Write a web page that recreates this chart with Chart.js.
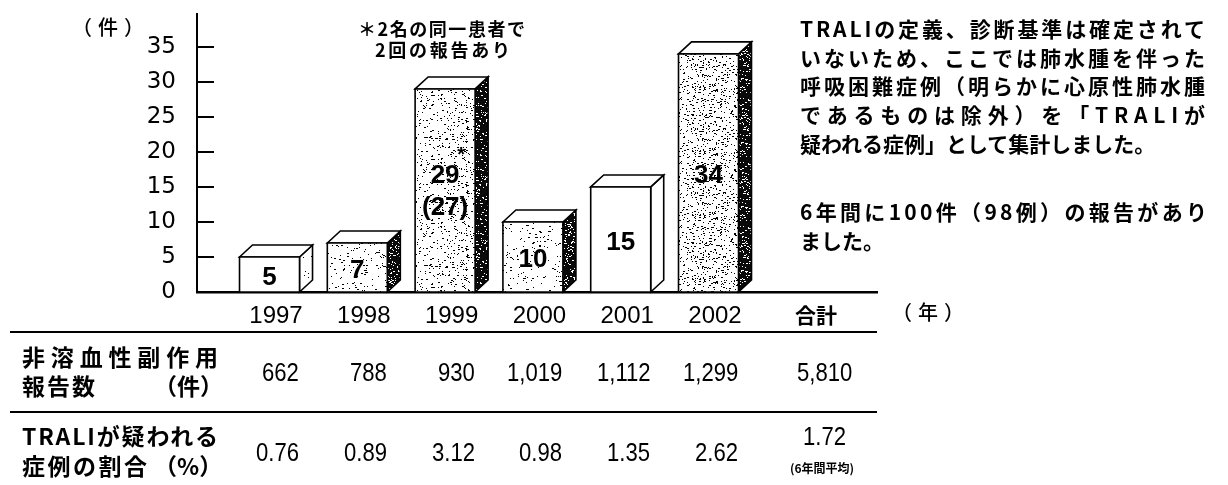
<!DOCTYPE html>
<html><head><meta charset="utf-8">
<script src="https://cdn.jsdelivr.net/npm/chart.js@4.4.1/dist/chart.umd.min.js"></script>
<style>
html,body{margin:0;padding:0;background:#fff;}
#wrap{position:relative;width:1228px;height:485px;overflow:hidden;background:#fff;}
#wrap canvas{position:absolute;left:0;top:0;}
.t{position:absolute;white-space:nowrap;color:#000;font-family:"Noto Sans CJK JP","Noto Sans CJK SC",sans-serif;line-height:1;font-weight:700;}
.num{font-family:"Liberation Sans",Arial,sans-serif;font-weight:400;transform-origin:0 50%;}
.hr{position:absolute;left:10px;width:867px;height:2px;background:#000;}
</style></head>
<body><div id="wrap"><canvas id="c" width="1228" height="485"></canvas></div>
<script>
// ---------- data ----------
const years = ['1997', '1998', '1999', '2000', '2001', '2002'];
const totalLabel = '合計';
const cases = [5, 7, 29, 10, 15, 34];          // 件
const patients = [5, 7, 27, 10, 15, 34];       // 例
const caseNotes = ['', '', '*', '', '', ''];
const yTicks = [0, 5, 10, 15, 20, 25, 30, 35];
const reports = [662, 788, 930, 1019, 1112, 1299];
const reportsTotal = 5810;
const rates = [0.76, 0.89, 3.12, 0.98, 1.35, 2.62];
const rateAverage = 1.72;

// ---------- styles ----------
const frontTex = ['white', 'light', 'medium', 'light', 'white', 'dense'];
const sideTex  = ['faint', 'dark', 'dark', 'dark', 'white', 'dark'];
const DX = 13, DY = 12;
const TOTAL_SHIFT = 0.15;
const SANS = '"Liberation Sans",Arial,sans-serif';
const CJK = '"Noto Sans CJK JP","Noto Sans CJK SC",sans-serif';

const canvas = document.getElementById('c');
const cctx = canvas.getContext('2d');

function hashRng(seed) {
  return function () {
    seed = (seed + 0x6D2B79F5) | 0;
    let t = Math.imul(seed ^ (seed >>> 15), 1 | seed);
    t = (t + Math.imul(t ^ (t >>> 7), 61 | t)) ^ t;
    return ((t ^ (t >>> 14)) >>> 0) / 4294967296;
  };
}
const texSpecs = {
  faint:  {bg: '#fff', fg: '#000', d: 0.025},
  light:  {bg: '#fff', fg: '#000', d: 0.05},
  medium: {bg: '#fff', fg: '#000', d: 0.085},
  dense:  {bg: '#fff', fg: '#000', d: 0.13},
  dark:   {bg: '#0a0a0a', fg: '#fff', d: 0.14}
};
function makeTex(kind, seed) {
  const s = texSpecs[kind];
  if (!s) return '#ffffff';
  const N = 64;
  const cv = document.createElement('canvas');
  cv.width = cv.height = N;
  const g = cv.getContext('2d');
  g.fillStyle = s.bg; g.fillRect(0, 0, N, N);
  g.fillStyle = s.fg;
  const r = hashRng(seed);
  const count = Math.round(N * N * s.d / 1.3);
  for (let i = 0; i < count; i++) {
    const x = Math.floor(r() * N), y = Math.floor(r() * N);
    const w = r() < 0.3 ? 2 : 1;
    g.fillRect(x, y, w, 1);
  }
  return cctx.createPattern(cv, 'repeat');
}
const frontFill = frontTex.map((k, i) => makeTex(k, 101 + i * 17));
const sideFill = sideTex.map((k, i) => makeTex(k, 503 + i * 29));

const box3d = {
  id: 'box3d',
  afterDatasetsDraw(chart) {
    const ctx = chart.ctx;
    const meta = chart.getDatasetMeta(0);
    ctx.save();
    ctx.lineWidth = 1.6;
    ctx.strokeStyle = '#000';
    ctx.lineJoin = 'miter';
    meta.data.forEach((el, i) => {
      const p = el.getProps(['x', 'y', 'base', 'width'], true);
      const L = p.x - p.width / 2, R = p.x + p.width / 2;
      const F = R - DX; // front right edge
      const top = p.y, base = p.base;
      // side
      ctx.beginPath();
      ctx.moveTo(F, top); ctx.lineTo(R, top - DY); ctx.lineTo(R, base - DY); ctx.lineTo(F, base); ctx.closePath();
      ctx.fillStyle = sideFill[i]; ctx.fill(); ctx.stroke();
      // top
      ctx.beginPath();
      ctx.moveTo(L, top); ctx.lineTo(L + DX, top - DY); ctx.lineTo(R, top - DY); ctx.lineTo(F, top); ctx.closePath();
      ctx.fillStyle = '#fff'; ctx.fill(); ctx.stroke();
      // front
      ctx.beginPath();
      ctx.rect(L, top, F - L, base - top);
      ctx.fillStyle = frontFill[i]; ctx.fill(); ctx.stroke();
      // value label
      const cx = (L + F) / 2, mid = (top + base) / 2 + 1;
      ctx.fillStyle = '#000';
      ctx.font = 'bold 26px ' + SANS;
      ctx.textAlign = 'center';
      ctx.textBaseline = 'middle';
      if (patients[i] !== cases[i]) {
        ctx.fillText(String(cases[i]), cx, mid - 16);
        ctx.fillText('(' + patients[i] + ')', cx, mid + 16);
        if (caseNotes[i]) {
          ctx.font = 'bold 20px ' + SANS;
          ctx.fillText(caseNotes[i], cx + 16, mid - 36);
        }
      } else {
        ctx.fillText(String(cases[i]), cx, mid + 2);
      }
    });
    ctx.restore();
  }
};

const inTicks = {
  id: 'inTicks',
  afterDraw(chart) {
    const ctx = chart.ctx, ys = chart.scales.y, left = chart.chartArea.left;
    ctx.save();
    ctx.strokeStyle = '#000';
    ctx.lineWidth = 2;
    yTicks.forEach(v => {
      if (v === 0) return;
      const py = Math.round(ys.getPixelForValue(v));
      ctx.beginPath(); ctx.moveTo(left, py); ctx.lineTo(left + 17, py); ctx.stroke();
    });
    ctx.restore();
  }
};

function noPad(s) { s.paddingTop = 0; s.paddingBottom = 0; s.paddingLeft = 0; s.paddingRight = 0; }

const xLabels = years.concat([totalLabel]);
const xPos = xLabels.map((_, i) => i < years.length ? i : i + TOTAL_SHIFT);

const chart = new Chart(canvas, {
  type: 'bar',
  data: {
    datasets: [{
      data: cases.map((v, i) => ({x: i, y: v})),
      backgroundColor: 'rgba(0,0,0,0)',
      borderWidth: 0,
      barThickness: 73
    }]
  },
  options: {
    responsive: false,
    animation: false,
    events: [],
    layout: {padding: {left: 0, right: 351, top: 14, bottom: 0}},
    plugins: {legend: {display: false}, tooltip: {enabled: false}},
    scales: {
      x: {
        type: 'linear',
        offset: false,
        min: -0.90,
        max: 6.845,
        afterBuildTicks: s => { s.ticks = xPos.map(v => ({value: v})); },
        afterFit: s => { s.height = 485 - 292; noPad(s); },
        grid: {display: false, offset: false},
        border: {display: true, color: '#000', width: 2.5},
        ticks: {
          autoSkip: false,
          maxRotation: 0,
          padding: 2,
          color: '#000',
          callback: (v, i) => xLabels[i],
          font: c => (c.index === years.length ? {family: CJK, size: 21, weight: 'bold'} : {family: SANS, size: 24})
        }
      },
      y: {
        min: 0,
        max: 39.7,
        afterBuildTicks: s => { s.ticks = yTicks.map(v => ({value: v})); },
        afterFit: s => { s.width = 197; noPad(s); },
        grid: {display: false},
        border: {display: true, color: '#000', width: 2},
        ticks: {padding: 13, color: '#000', font: {family: '"DejaVu Sans",sans-serif', size: 23}}
      }
    }
  },
  plugins: [box3d, inTicks]
});

// ---------- HTML text overlay ----------
const wrap = document.getElementById('wrap');
function txt(s, opt) {
  const d = document.createElement('div');
  d.className = 't' + (opt.cls ? ' ' + opt.cls : '');
  d.textContent = s;
  d.style.fontSize = opt.size + 'px';
  if (opt.weight) d.style.fontWeight = opt.weight;
  if (opt.ls) d.style.letterSpacing = opt.ls + 'px';
  wrap.appendChild(d);
  let w = d.getBoundingClientRect().width;
  if (opt.justify) {
    const n = [...s].length;
    const ls = (opt.justify - w) / (n - 1);
    d.style.letterSpacing = ls + 'px';
    w = opt.justify;
  }
  if (opt.sx) {
    d.style.transform = 'scaleX(' + opt.sx + ')';
    w = w * opt.sx;
  }
  const top = opt.cy - opt.size * (opt.k || 0.55);
  d.style.top = top + 'px';
  let left = opt.x;
  if (opt.align === 'center') left = opt.x - w / 2;
  if (opt.align === 'right') left = opt.x - w;
  d.style.left = left + 'px';
  return d;
}
function hr(y) {
  const d = document.createElement('div');
  d.className = 'hr';
  d.style.top = (y - 1) + 'px';
  wrap.appendChild(d);
}

// axis titles & note
txt('（件）', {x: 72, cy: 28, size: 20, weight: 500, ls: 6});
txt('（年）', {x: 892, cy: 313, size: 20, weight: 500, ls: 6});
txt('＊2名の同一患者で', {x: 358, cy: 29, size: 18, justify: 167});
txt('2回の報告あり', {x: 375, cy: 50, size: 18, justify: 135});

// explanatory paragraph
const para = [
  ['TRALIの定義、診断基準は確定されて', 30, 405],
  ['いないため、ここでは肺水腫を伴った', 58.5, 405],
  ['呼吸困難症例（明らかに心原性肺水腫', 87, 405],
  ['であるものは除外）を「TRALIが', 116, 405],
  ['疑われる症例」として集計しました。', 144.5, 0],
  ['6年間に100件（98例）の報告があり', 213, 407],
  ['ました。', 242, 0]
];
para.forEach(([s, cy, j]) => txt(s, {x: 800, cy, size: 21, justify: j || 0}));

// table
hr(332); hr(412);
txt('非溶血性副作用', {x: 22, cy: 358, size: 23, justify: 196});
txt('報告数', {x: 22, cy: 387, size: 23, justify: 73});
txt('（件）', {x: 154, cy: 387, size: 23});
txt('TRALIが疑われる', {x: 22, cy: 437, size: 23, justify: 196});
txt('症例の割合', {x: 22, cy: 467, size: 23, justify: 125});
txt('（%）', {x: 154, cy: 467, size: 23});

const xs = chart.scales.x;
years.forEach((y, i) => {
  const px = xs.getPixelForValue(i);
  txt(reports[i].toLocaleString('en-US'), {x: px + 23, cy: 373, size: 26, cls: 'num', align: 'right', k: 0.52, sx: 0.85});
  txt(rates[i].toFixed(2), {x: px + 23, cy: 453, size: 26, cls: 'num', align: 'right', k: 0.52, sx: 0.85});
});
const pt = xs.getPixelForValue(years.length + TOTAL_SHIFT) + 9;
txt(reportsTotal.toLocaleString('en-US'), {x: pt, cy: 373, size: 26, cls: 'num', align: 'center', k: 0.52, sx: 0.85});
txt(rateAverage.toFixed(2), {x: pt, cy: 437, size: 26, cls: 'num', align: 'center', k: 0.52, sx: 0.85});
txt('(6年間平均)', {x: pt - 3, cy: 469, size: 12, align: 'center'});
</script>
</body></html>
